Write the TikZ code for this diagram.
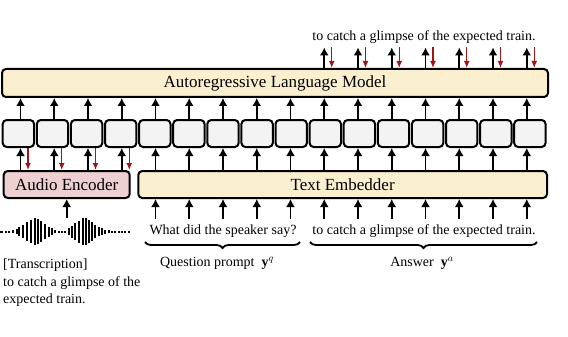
\documentclass[tikz,border=0pt]{standalone}
\usepackage{fontspec}
\setmainfont{Liberation Serif}
\usetikzlibrary{arrows.meta,decorations.pathreplacing,calc}
\definecolor{lmfill}{HTML}{FAF0D0}
\definecolor{aefill}{HTML}{EDD0D1}
\definecolor{tokfill}{HTML}{F3F3F3}
\definecolor{gradred}{HTML}{A01515}

\begin{document}
\begin{tikzpicture}[x=1pt,y=-1pt,
  blockbox/.style={draw=black, line width=2pt, rounded corners=4pt, inner sep=0pt},
  bigtext/.style={font=\fontsize{17}{20}\selectfont},
  smalltext/.style={font=\fontsize{14}{17.5}\selectfont},
  uparrow/.style={line width=1.8pt, -{Latex[length=8pt,width=9pt]}},
  backarrow/.style={gradred, line width=1.3pt, -{Latex[length=7pt,width=6pt]}},
  bracestyle/.style={line width=1.8pt, decorate, decoration={brace, mirror, amplitude=6pt}},
  ]
\useasboundingbox (0,0) rectangle (568,337);

% main blocks
\node[blockbox, fill=lmfill, minimum width=546pt, minimum height=28pt, bigtext]
  (lm) at (275,83) {Autoregressive Language Model};
\node[blockbox, fill=aefill, minimum width=126pt, minimum height=27pt, bigtext]
  (ae) at (66.7,184.5) {Audio Encoder};
\node[blockbox, fill=lmfill, minimum width=408.7pt, minimum height=27pt, bigtext]
  (te) at (342.65,184.5) {Text Embedder};

% token embeddings
\foreach \i in {1,...,16}
  \node[blockbox, fill=tokfill, minimum width=31.4pt, minimum height=27pt]
    (t\i) at ({18.4+34.1*(\i-1)},133.5) {};

% arrow columns and free ends
\foreach \i in {1,...,16}
  \coordinate (c\i) at ({20.5+33.75*(\i-1)},0);
\coordinate (outrow) at (0,47.5);
\coordinate (inrow) at (0,219);
\coordinate (wavetop) at (66.7,218);

% tokens into the language model
\foreach \i in {1,...,16}
  \draw[uparrow] (t\i.north -| c\i) -- (lm.south -| c\i);

% audio encoder <-> tokens
\foreach \i in {1,...,4}{
  \draw[uparrow] (ae.north -| c\i) -- (t\i.south -| c\i);
  \draw[backarrow] ($(t\i.south -| c\i)+(7.5,0)$) -- ($(ae.north -| c\i)+(7.5,0)$);
}

% text embedder -> tokens, text inputs -> text embedder
\foreach \i in {5,...,16}{
  \draw[uparrow] (te.north -| c\i) -- (t\i.south -| c\i);
  \draw[uparrow] (inrow -| c\i) -- (te.south -| c\i);
}
\draw[uparrow] (wavetop) -- (ae.south -| wavetop);

% outputs of the language model
\foreach \i in {10,...,16}{
  \draw[uparrow] (lm.north -| c\i) -- (outrow -| c\i);
  \draw[backarrow] ($(outrow -| c\i)+(7.5,0)$) -- ($(lm.north -| c\i)+(7.5,0)$);
}

% texts
\node[smalltext, anchor=base] (outtxt) at (424,40.5) {to catch a glimpse of the expected train.};
\node[smalltext, anchor=base] (qtxt) at (223,234) {What did the speaker say?};
\node[smalltext, anchor=base] (atxt) at (424,234) {to catch a glimpse of the expected train.};

\draw[bracestyle] (145,242) -- (300,242);
\draw[bracestyle] (310,242) -- (537,242);

\node[smalltext, anchor=base] (qlab) at (217,266.5) {Question prompt\ \ $\mathbf{y}^{q}$};
\node[smalltext, anchor=base] (alab) at (422,266.5) {Answer\ \ $\mathbf{y}^{a}$};

\node[smalltext, anchor=north west, align=left, inner sep=0pt] (trans) at (3,259)
  {[Transcription]\\to catch a glimpse of the\\expected train.};

% audio waveform
\fill (0,230.9) rectangle (2.8,232.5);
\foreach \x/\h in {5.7/2, 9.3/2, 13.3/2.7, 16.7/5.3, 19.3/9, 22.7/13, 26.7/18.7,
  30.7/23.3, 34.7/27.3, 38/25.3, 41.3/20.7, 44.7/15.3, 48.7/10, 52/6.7, 55.3/3.3,
  58.7/2, 62/2, 65.3/2.4, 68.7/6.7, 72/12, 75.3/16.7, 79.3/22, 82.7/26.7, 86/27.3,
  88.7/23.3, 92/18.7, 95.3/13.3, 98.7/9.3, 102/6.7, 105.3/4, 108.7/2.7, 112/2,
  115.3/2, 118.7/2, 122/2, 125.3/2, 128.7/2}
  \fill ({\x-0.85},{231.7-\h/2}) rectangle ({\x+0.85},{231.7+\h/2});
\end{tikzpicture}
\end{document}
